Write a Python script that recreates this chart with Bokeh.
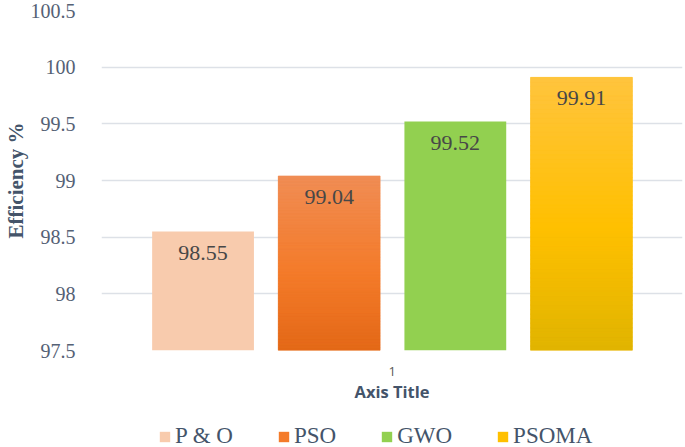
import numpy as np
from bokeh.plotting import figure
from bokeh.layouts import column
from bokeh.models import Range1d, FixedTicker, Legend, LegendItem, ColumnDataSource
from bokeh.core.properties import value
from bokeh.embed import file_html
from bokeh.resources import INLINE

# ---- data ----
methods = ["P & O", "PSO", "GWO", "PSOMA"]
efficiency = [98.55, 99.04, 99.52, 99.91]
labels = ["98.55", "99.04", "99.52", "99.91"]
x_tick_label = "1"
y_ticks = [97.5, 98, 98.5, 99, 99.5, 100, 100.5]
y_tick_labels = ["97.5", "98", "98.5", "99", "99.5", "100", "100.5"]

# ---- styles (top, middle, bottom gradient colours) ----
grad = {
    "P & O": ["#F8CBAD", "#F8CBAD", "#F8CBAD"],
    "PSO":   ["#F08D55", "#F47B2A", "#E36817"],
    "GWO":   ["#92D050", "#92D050", "#92D050"],
    "PSOMA": ["#FFC43E", "#FFC000", "#E0B400"],
}
base = 97.5
bar_w = 0.807
xs = list(np.arange(len(methods)) - (len(methods) - 1) / 2.0)

SERIF = "Liberation Serif"
SANS = "Open Sans"

p = figure(width=685, height=412, output_backend="svg", toolbar_location=None,
           x_range=Range1d(-2.305, 2.301), y_range=Range1d(97.5, 100.5),
           min_border_left=100, min_border_right=3, min_border_top=10, min_border_bottom=62)
p.outline_line_color = None
p.background_fill_color = "white"
p.border_fill_color = "white"

p.xgrid.grid_line_color = None
p.ygrid.grid_line_color = "#DDE1E7"
p.ygrid.grid_line_width = 1.6
p.yaxis.ticker = FixedTicker(ticks=y_ticks)
p.yaxis.major_label_overrides = {t: l for t, l in zip(y_ticks, y_tick_labels)}
p.ygrid.ticker = FixedTicker(ticks=y_ticks)

def hex2rgb(h):
    h = h.lstrip("#")
    return np.array([int(h[i:i + 2], 16) for i in (0, 2, 4)], dtype=float)

def rgb2hex(c):
    return "#%02x%02x%02x" % tuple(int(round(v)) for v in c)

for i, m in enumerate(methods):
    top_c, mid_c, bot_c = [hex2rgb(c) for c in grad[m]]
    p.vbar(x=[xs[i]], top=[efficiency[i]], bottom=base, width=bar_w,
           fill_color=grad[m][1], line_color=None)
    if grad[m][0] != grad[m][2]:
        n = 60
        edges = np.linspace(base, efficiency[i], n + 1)
        bots, tops, cols = [], [], []
        for k in range(n):
            f = (k + 0.5) / n  # 0 bottom -> 1 top
            if f < 0.45:
                c = bot_c + (mid_c - bot_c) * (f / 0.45)
            else:
                c = mid_c + (top_c - mid_c) * ((f - 0.45) / 0.55)
            bots.append(edges[k])
            tops.append(edges[k + 1])
            cols.append(rgb2hex(c))
        src = ColumnDataSource(dict(x=[xs[i]] * n, bottom=bots, top=tops, c=cols))
        p.vbar(x="x", bottom="bottom", top="top", width=bar_w, fill_color="c",
               line_color="c", line_width=0.6, source=src)

# value labels
p.text(x=xs, y=efficiency, text=labels, text_align="center", text_baseline="middle",
       y_offset=21, text_font=value(SERIF), text_font_size="22px", text_color="#474747")

# y axis
p.yaxis.axis_line_color = None
p.yaxis.major_tick_line_color = None
p.yaxis.minor_tick_line_color = None
p.yaxis.major_label_text_font = SERIF
p.yaxis.major_label_text_font_size = "20px"
p.yaxis.major_label_text_color = "#556175"
p.yaxis.major_label_standoff = 20
p.yaxis.axis_label = "Efficiency %"
p.yaxis.axis_label_text_font = SERIF
p.yaxis.axis_label_text_font_style = "bold"
p.yaxis.axis_label_text_font_size = "21px"
p.yaxis.axis_label_text_color = "#44546A"
p.yaxis.axis_label_standoff = 0

# x axis
p.xaxis.ticker = FixedTicker(ticks=[0])
p.xaxis.major_label_overrides = {0: x_tick_label}
p.xaxis.axis_line_color = None
p.xaxis.major_tick_line_color = None
p.xaxis.minor_tick_line_color = None
p.xaxis.major_label_text_font = SANS
p.xaxis.major_label_text_font_size = "13px"
p.xaxis.major_label_text_color = "#595959"
p.xaxis.major_label_standoff = 10
p.xaxis.axis_label = "Axis Title"
p.xaxis.axis_label_text_font = SANS
p.xaxis.axis_label_text_font_style = "bold"
p.xaxis.axis_label_text_font_size = "16.5px"
p.xaxis.axis_label_text_color = "#44546A"
p.xaxis.axis_label_standoff = 1

# ---- legend strip below the chart ----
q = figure(width=685, height=35, output_backend="svg", toolbar_location=None,
           x_axis_type=None, y_axis_type=None,
           x_range=Range1d(0, 1), y_range=Range1d(0, 1),
           min_border_left=100, min_border_right=3, min_border_top=0, min_border_bottom=0)
q.outline_line_color = None
q.background_fill_color = "white"
q.border_fill_color = "white"
items = []
for m in methods:
    # legend swatch renderer: a zero-height bar, so only its legend swatch shows
    r = q.vbar(x=[0.5], top=[0.5], bottom=[0.5], width=0.001, fill_color=grad[m][1],
               line_color=None)
    items.append(LegendItem(label=m, renderers=[r]))
legend = Legend(items=items, location=(57, -2), orientation="horizontal",
                glyph_width=13, glyph_height=13, label_standoff=4, spacing=44,
                padding=0, margin=0, border_line_color=None, background_fill_alpha=0,
                label_text_font=SERIF, label_text_font_size="23px",
                label_text_color="#44546A", label_height=25)
q.add_layout(legend, "center")

open("out.html", "w").write(file_html(column(p, q, spacing=0), INLINE))
